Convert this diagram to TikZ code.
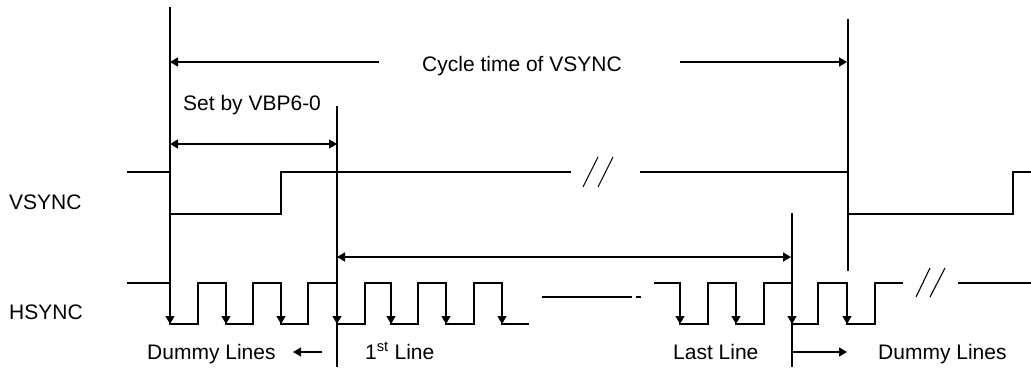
\documentclass[tikz,border=0pt]{standalone}
\usepackage{fontspec}
\setmainfont{Liberation Sans}
\usetikzlibrary{arrows.meta}
\tikzset{
  sig/.style={line width=1.5pt, line join=miter},
  bar/.style={line width=2.8pt},
  brk/.style={line width=1.1pt},
  lbl/.style={anchor=base west, inner sep=0pt, font=\fontsize{21}{25}\selectfont},
  >={Triangle[length=8pt,width=9pt]}
}
\begin{document}
\begin{tikzpicture}[x=1pt,y=-1pt]
\useasboundingbox (0,0) rectangle (1031,372);
% labels
\node[lbl] (vs) at (9,209) {VSYNC};
\node[lbl] (hs) at (9,319) {HSYNC};
\node[lbl] (cyc) at (422,71) {Cycle time of VSYNC};
\node[lbl] (vbp) at (183,110) {Set by VBP6-0};
\node[lbl] (dl1) at (147,359) {Dummy Lines};
\node[lbl] (fl) at (365,359) {1\textsuperscript{st} Line};
\node[lbl] (ll) at (673,359) {Last Line};
\node[lbl] (dl2) at (878,359) {Dummy Lines};
% key coordinates
\coordinate (a0) at (170,7);   \coordinate (a1) at (170,324);
\coordinate (b0) at (337,106); \coordinate (b1) at (337,367);
\coordinate (c0) at (792,213); \coordinate (c1) at (792,367);
\coordinate (d0) at (848,19);  \coordinate (d1) at (848,271);
% vertical markers
\draw[sig,->] (a0) -- (a1);
\draw[sig] (b0) -- (b1);
\draw[bar] (c0) -- (c1);
\draw[bar] (d0) -- (d1);
% cycle time arrow
\coordinate (cy0) at (170,62); \coordinate (cy1) at (379,62);
\coordinate (cy2) at (680,62); \coordinate (cy3) at (847,62);
\draw[sig,->] (cy1) -- (cy0);
\draw[sig,->] (cy2) -- (cy3);
% VBP arrow
\coordinate (v0) at (170,144); \coordinate (v1) at (337,144);
\draw[sig,<->] (v0) -- (v1);
% line-count arrow
\coordinate (l0) at (337,257); \coordinate (l1) at (791,257);
\draw[sig,<->] (l0) -- (l1);
% dummy arrows
\coordinate (da0) at (322,352); \coordinate (da1) at (293,352);
\draw[sig,->] (da0) -- (da1);
\coordinate (db0) at (792,352); \coordinate (db1) at (847,352);
\draw[sig,->] (db0) -- (db1);
% VSYNC waveform
\draw[sig] (127,172) -- (170,172) -- (170,214) -- (281,214) -- (281,172) -- (571,172);
\draw[sig] (640,172) -- (848,172) -- (848,214) -- (1013,214) -- (1013,172) -- (1031,172);
\draw[brk] (583,187) -- (598,157);
\draw[brk] (598,187) -- (613,157);
% HSYNC waveform
\draw[sig] (127,283) -- (170,283) -- (170,324) -- (198,324) -- (198,283) -- (226,283) -- (226,324)
  -- (253,324) -- (253,283) -- (281,283) -- (281,324) -- (308,324) -- (308,283) -- (337,283)
  -- (337,324) -- (365,324) -- (365,283) -- (391,283) -- (391,324) -- (418,324) -- (418,283)
  -- (446,283) -- (446,324) -- (474,324) -- (474,283) -- (502,283) -- (502,324) -- (529,324);
\draw[sig] (542,297) -- (632,297);
\draw[sig] (636,297) -- (641,297);
\draw[sig] (654,283) -- (680,283) -- (680,324) -- (708,324) -- (708,283) -- (736,283) -- (736,324)
  -- (764,324) -- (764,283) -- (792,283) -- (792,324) -- (818,324) -- (818,283) -- (847,283)
  -- (847,324) -- (875,324) -- (875,283) -- (903,283);
\draw[sig] (958,283) -- (1031,283);
\draw[brk] (916,297) -- (930,268);
\draw[brk] (930,297) -- (945,268);
% falling-edge arrows
\foreach \x [count=\i] in {226,281,337,391,446,502,680,736,792,847} {
  \coordinate (fh\i) at (\x,283);
  \coordinate (fl\i) at (\x,324);
  \draw[sig,->] (fh\i) -- (fl\i);
}
\end{tikzpicture}
\end{document}
